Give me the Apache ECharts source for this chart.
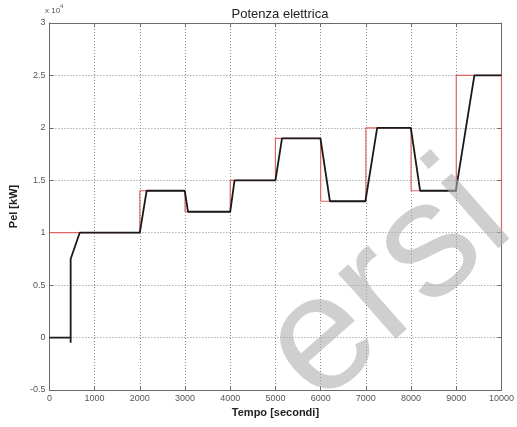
<!DOCTYPE html>
<html>
<head>
<meta charset="utf-8">
<script src="https://cdn.jsdelivr.net/npm/echarts@6/dist/echarts.min.js"></script>
<style>
  html, body { margin: 0; padding: 0; background: #fff; }
  #main { width: 517px; height: 427px; }
</style>
</head>
<body>
<div id="main"></div>
<script>
// riferimento (rosso): inizio di ogni gradino e livello, in unità di 10^4 kW
var refStart = [0, 2000, 3000, 4000, 5000, 6000, 7000, 8000, 9000, 10000];
var refLevel = [1, 1.4, 1.2, 1.5, 1.9, 1.3, 2.0, 1.4, 2.5, 1.0];

// potenza effettiva (nero)
var pelTime = [0, 470, 470, 470, 670, 2000, 2150, 2995, 3065, 4000, 4095, 5000, 5145, 5995, 6205, 6990, 7250, 7995, 8200, 8990, 9400, 10000];
var pelValue = [0, 0, -0.05, 0.75, 1.0, 1.0, 1.4, 1.4, 1.2, 1.2, 1.5, 1.5, 1.9, 1.9, 1.3, 1.3, 2.0, 2.0, 1.4, 1.4, 2.5, 2.5];

var xTicks = [0, 1000, 2000, 3000, 4000, 5000, 6000, 7000, 8000, 9000, 10000];
var yTicks = [-0.5, 0, 0.5, 1, 1.5, 2, 2.5, 3];

var refData = refStart.map(function (t, i) { return [t, refLevel[i]]; });
var pelData = pelTime.map(function (t, i) { return [t, pelValue[i]]; });

var myChart = echarts.init(document.getElementById("main"));

var gridLine = { show: true, lineStyle: { color: "#8a8a8a", width: 1, type: [1, 2] } };
var boxLine = { show: true, onZero: false, lineStyle: { color: "#6a6a6a", width: 1 } };
var labelFont = { fontFamily: "Liberation Sans, Arial, sans-serif", fontSize: 9, color: "#555" };

var option = {
  animation: false,
  backgroundColor: "#fff",
  title: {
    text: "Potenza elettrica",
    left: 275,
    textAlign: "center",
    top: 3,
    textStyle: { fontFamily: "Liberation Sans, Arial, sans-serif", fontSize: 13, fontWeight: "normal", color: "#222" }
  },
  grid: { left: 44, right: 12, top: 23, bottom: 37, show: false },
  xAxis: [
    {
      type: "value",
      min: xTicks[0],
      max: xTicks[xTicks.length - 1],
      interval: 1000,
      name: "Tempo [secondi]",
      nameLocation: "middle",
      nameGap: 15,
      nameTextStyle: { fontFamily: "Liberation Sans, Arial, sans-serif", fontSize: 11, fontWeight: "bold", color: "#222" },
      axisLine: boxLine,
      axisTick: { show: true, inside: true, length: 4, lineStyle: { color: "#6a6a6a" } },
      axisLabel: Object.assign({
        margin: 4, showMaxLabel: true, showMinLabel: true,
        formatter: function (v) { return String(v); }
      }, labelFont),
      splitLine: gridLine
    },
    {
      type: "value",
      position: "top",
      min: xTicks[0],
      max: xTicks[xTicks.length - 1],
      interval: 1000,
      axisLine: boxLine,
      axisTick: { show: true, inside: true, length: 4, lineStyle: { color: "#6a6a6a" } },
      axisLabel: { show: false },
      splitLine: { show: false }
    }
  ],
  yAxis: [
    {
      type: "value",
      min: yTicks[0],
      max: yTicks[yTicks.length - 1],
      interval: 0.5,
      name: "Pel [kW]",
      nameLocation: "middle",
      nameGap: 22,
      nameRotate: 90,
      nameTextStyle: { fontFamily: "Liberation Sans, Arial, sans-serif", fontSize: 11, fontWeight: "bold", color: "#222" },
      axisLine: boxLine,
      axisTick: { show: true, inside: true, length: 4, lineStyle: { color: "#6a6a6a" } },
      axisLabel: Object.assign({ margin: 4 }, labelFont),
      splitLine: gridLine
    },
    {
      type: "value",
      position: "right",
      min: yTicks[0],
      max: yTicks[yTicks.length - 1],
      interval: 0.5,
      axisLine: boxLine,
      axisTick: { show: true, inside: true, length: 4, lineStyle: { color: "#6a6a6a" } },
      axisLabel: { show: false },
      splitLine: { show: false }
    }
  ],
  graphic: [
    {
      type: "text",
      left: 45,
      top: 3,
      style: {
        text: "{a|x 10}{b|4}",
        rich: {
          a: { fontFamily: "Liberation Sans, Arial, sans-serif", fontSize: 8, fill: "#555", padding: [4, 0, 0, 0] },
          b: { fontFamily: "Liberation Sans, Arial, sans-serif", fontSize: 6, fill: "#555", verticalAlign: "top" }
        }
      }
    },
    {
      // filigrana grigia
      type: "text",
      x: 388,
      y: 285,
      rotation: Math.PI * 0.23,
      zlevel: 2,
      silent: true,
      style: {
        text: "ersi",
        align: "center",
        verticalAlign: "middle",
        fontFamily: "Liberation Sans, Arial, sans-serif",
        fontSize: 165,
        fill: "rgba(175,175,175,0.6)"
      }
    }
  ],
  series: [
    {
      type: "line",
      name: "riferimento",
      step: "end",
      data: refData,
      symbol: "none",
      clip: false,
      zlevel: 1,
      lineStyle: { color: "#e06666", width: 1.2 },
      z: 4
    },
    {
      type: "line",
      name: "Pel",
      data: pelData,
      symbol: "none",
      zlevel: 1,
      lineStyle: { color: "#1a1a1a", width: 1.8 },
      z: 5
    }
  ]
};

myChart.setOption(option);
window.addEventListener("resize", function () {
  myChart.resize();
});
</script>
</body>
</html>
